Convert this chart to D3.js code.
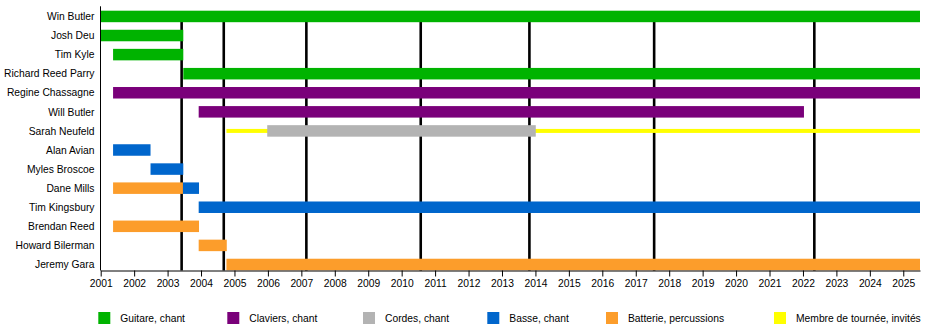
<!DOCTYPE html>
<html>
<head>
<meta charset="utf-8">
<script src="https://cdn.jsdelivr.net/npm/d3@7"></script>
<style>
  html, body { margin: 0; padding: 0; background: #fff; }
  svg { display: block; }
  text { font-family: Arial, "Liberation Sans", sans-serif; fill: #000; }
</style>
</head>
<body>
<svg id="chart" width="950" height="335"></svg>
<script>
// Band members, top to bottom
const members = [
  "Win Butler", "Josh Deu", "Tim Kyle", "Richard Reed Parry", "Regine Chassagne",
  "Will Butler", "Sarah Neufeld", "Alan Avian", "Myles Broscoe", "Dane Mills",
  "Tim Kingsbury", "Brendan Reed", "Howard Bilerman", "Jeremy Gara"
];

// Roles shown in the legend
const roles = [
  "Guitare, chant", "Claviers, chant", "Cordes, chant",
  "Basse, chant", "Batterie, percussions", "Membre de tournée, invités"
];

// Membership spans: [member, role, start year, end year]
const spans = [
  ["Win Butler",         "Guitare, chant",             2001.00, 2025.50],
  ["Josh Deu",           "Guitare, chant",             2001.00, 2003.47],
  ["Tim Kyle",           "Guitare, chant",             2001.37, 2003.47],
  ["Richard Reed Parry", "Guitare, chant",             2003.47, 2025.50],
  ["Regine Chassagne",   "Claviers, chant",            2001.37, 2025.50],
  ["Will Butler",        "Claviers, chant",            2003.93, 2022.03],
  ["Sarah Neufeld",      "Membre de tournée, invités", 2004.76, 2025.50],
  ["Sarah Neufeld",      "Cordes, chant",              2005.98, 2014.01],
  ["Alan Avian",         "Basse, chant",               2001.37, 2002.49],
  ["Myles Broscoe",      "Basse, chant",               2002.49, 2003.47],
  ["Dane Mills",         "Batterie, percussions",      2001.37, 2003.46],
  ["Dane Mills",         "Basse, chant",               2003.46, 2003.94],
  ["Tim Kingsbury",      "Basse, chant",               2003.93, 2025.50],
  ["Brendan Reed",       "Batterie, percussions",      2001.37, 2003.94],
  ["Howard Bilerman",    "Batterie, percussions",      2003.93, 2004.77],
  ["Jeremy Gara",        "Batterie, percussions",      2004.76, 2025.50]
];

// Album release dates, marked with vertical lines
const albumReleases = [2003.42, 2004.68, 2007.15, 2010.57, 2013.82, 2017.55, 2022.34];

// Year tick labels
const yearTicks = [
  2001, 2002, 2003, 2004, 2005, 2006, 2007, 2008, 2009, 2010, 2011, 2012, 2013,
  2014, 2015, 2016, 2017, 2018, 2019, 2020, 2021, 2022, 2023, 2024, 2025
];

const svg = d3.select("#chart");

const plot = { left: 100.7, right: 920, top: 6.3, bottom: 270.5 };
const barH = 11.5;
const tourH = 4;

const x = d3.scaleLinear().domain([2001, 2025.5]).range([plot.left, plot.right]);
const y = d3.scaleBand().domain(members).range([plot.top, plot.top + 19.08 * members.length]);

const color = d3.scaleOrdinal()
  .domain(roles)
  .range(["#00b300", "#7a007a", "#b3b3b3", "#0066cc", "#fc9d2b", "#ffff00"]);

const tourRole = roles[5];
const rowCenter = m => y(m) + y.bandwidth() / 2 + 0.6;

// Album release lines (behind the bars)
svg.append("g")
  .selectAll("line")
  .data(albumReleases)
  .join("line")
  .attr("x1", d => x(d)).attr("x2", d => x(d))
  .attr("y1", plot.top + 6).attr("y2", plot.bottom)
  .attr("stroke", "#000")
  .attr("stroke-width", 2.6);

// Touring spans: thin lines, drawn first so instrument bars cover them
svg.append("g")
  .selectAll("rect")
  .data(spans.filter(s => s[1] === tourRole))
  .join("rect")
  .attr("x", d => x(d[2]))
  .attr("width", d => x(d[3]) - x(d[2]))
  .attr("y", d => rowCenter(d[0]) - tourH / 2)
  .attr("height", tourH)
  .attr("fill", d => color(d[1]));

// Instrument bars
svg.append("g")
  .selectAll("rect")
  .data(spans.filter(s => s[1] !== tourRole))
  .join("rect")
  .attr("x", d => x(d[2]))
  .attr("width", d => x(d[3]) - x(d[2]))
  .attr("y", d => rowCenter(d[0]) - barH / 2)
  .attr("height", barH)
  .attr("fill", d => color(d[1]));

// Member names
svg.append("g")
  .selectAll("text")
  .data(members)
  .join("text")
  .attr("x", 94.5)
  .attr("y", d => rowCenter(d))
  .attr("dy", "0.36em")
  .attr("text-anchor", "end")
  .style("font-size", "10.3px")
  .text(d => d);

// Left axis line
svg.append("line")
  .attr("x1", plot.left - 0.2).attr("x2", plot.left - 0.2)
  .attr("y1", plot.top).attr("y2", plot.bottom)
  .attr("stroke", "#000").attr("stroke-width", 1);

// Bottom year axis
const xAxis = d3.axisBottom(x)
  .tickValues(yearTicks)
  .tickFormat(d3.format("d"))
  .tickSize(6)
  .tickSizeOuter(0)
  .tickPadding(3);

const axisG = svg.append("g")
  .attr("transform", `translate(0,${plot.bottom})`)
  .call(xAxis);
axisG.select(".domain").attr("stroke", "#000");
axisG.selectAll(".tick line").attr("stroke", "#000");
axisG.selectAll(".tick text")
  .style("font-size", "10.3px")
  .style("font-family", "Arial, 'Liberation Sans', sans-serif")
  .attr("fill", "#000");

// Legend
const legendX = [98.3, 227.3, 363, 487.3, 606, 774];
const legend = svg.append("g")
  .selectAll("g")
  .data(roles)
  .join("g")
  .attr("transform", (d, i) => `translate(${legendX[i]},312)`);

legend.append("rect")
  .attr("width", 12).attr("height", 12)
  .attr("fill", d => color(d));

legend.append("text")
  .attr("x", 22)
  .attr("y", 6)
  .attr("dy", "0.36em")
  .style("font-size", "10.3px")
  .text(d => d);
</script>
</body>
</html>
